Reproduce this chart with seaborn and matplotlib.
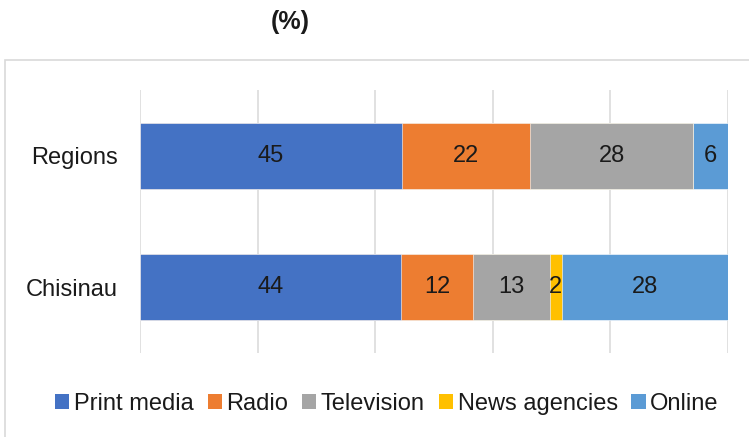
import numpy as np
import pandas as pd
import matplotlib
matplotlib.use("Agg")
import matplotlib.pyplot as plt
import seaborn as sns
from matplotlib.patches import Rectangle, Patch

groups = ["Regions", "Chisinau"]
series = ["Print media", "Radio", "Television", "News agencies", "Online"]
regions_vals = [45, 22, 28, 0, 6]
chisinau_vals = [44, 12, 13, 2, 28]
colors = ["#4472C4", "#ED7D31", "#A5A5A5", "#FFC000", "#5B9BD5"]

sns.set_theme(style="white")
plt.rcParams["font.family"] = ["Liberation Sans", "DejaVu Sans"]

vals = np.array([regions_vals, chisinau_vals], dtype=float)
shares = vals / vals.sum(axis=1, keepdims=True) * 100
cum = np.cumsum(shares, axis=1)

FS = 17

fig = plt.figure(figsize=(7.49, 4.37), dpi=100)
ax = fig.add_axes([140 / 749, 1 - 353 / 437, 588 / 749, 263 / 437])

# outer chart frame
fig.patches.append(Rectangle((5 / 749, -0.1), 2, 1 - 60 / 437 + 0.1,
                             transform=fig.transFigure, fill=False,
                             edgecolor="#d9d9d9", linewidth=1.2, zorder=0))

# stacked bars: draw cumulative totals from the last series back to the first
for i in range(len(series) - 1, -1, -1):
    df = pd.DataFrame({"group": groups, "value": cum[:, i]})
    sns.barplot(data=df, x="value", y="group", orient="h", color=colors[i],
                width=0.5, edgecolor="white", linewidth=0.4, saturation=1,
                ax=ax, zorder=2)

for g in range(len(groups)):
    for i in range(len(series)):
        if vals[g, i] == 0:
            continue
        mid = cum[g, i] - shares[g, i] / 2
        ax.text(mid, g, f"{int(vals[g, i])}", ha="center", va="center",
                fontsize=FS, color="#1a1a1a", zorder=3)

ax.set_xlim(0, 100)
ax.set_ylim(1.5, -0.5)
ax.set_xticks(np.arange(0, 101, 20))
ax.set_xticklabels([])
ax.xaxis.grid(True, color="#d9d9d9", linewidth=1.1)
ax.set_axisbelow(True)
ax.set_xlabel("")
ax.set_ylabel("")
ax.tick_params(axis="both", length=0)
ax.tick_params(axis="y", labelsize=FS, colors="#1a1a1a", pad=16)
for s in ax.spines.values():
    s.set_visible(False)

fig.text(290 / 749, 1 - 22 / 437, "(%)", ha="center", va="center",
         fontsize=18, fontweight="bold", color="#1a1a1a")

handles = [Patch(facecolor=c, edgecolor="none") for c in colors]
fig.legend(handles, series, loc="center", bbox_to_anchor=(387 / 749, 1 - 404 / 437),
           ncol=5, frameon=False, fontsize=FS, handlelength=0.6, handleheight=0.6,
           handletextpad=0.2, columnspacing=0.58, labelcolor="#1a1a1a")

fig.savefig("out.png", dpi=100)
